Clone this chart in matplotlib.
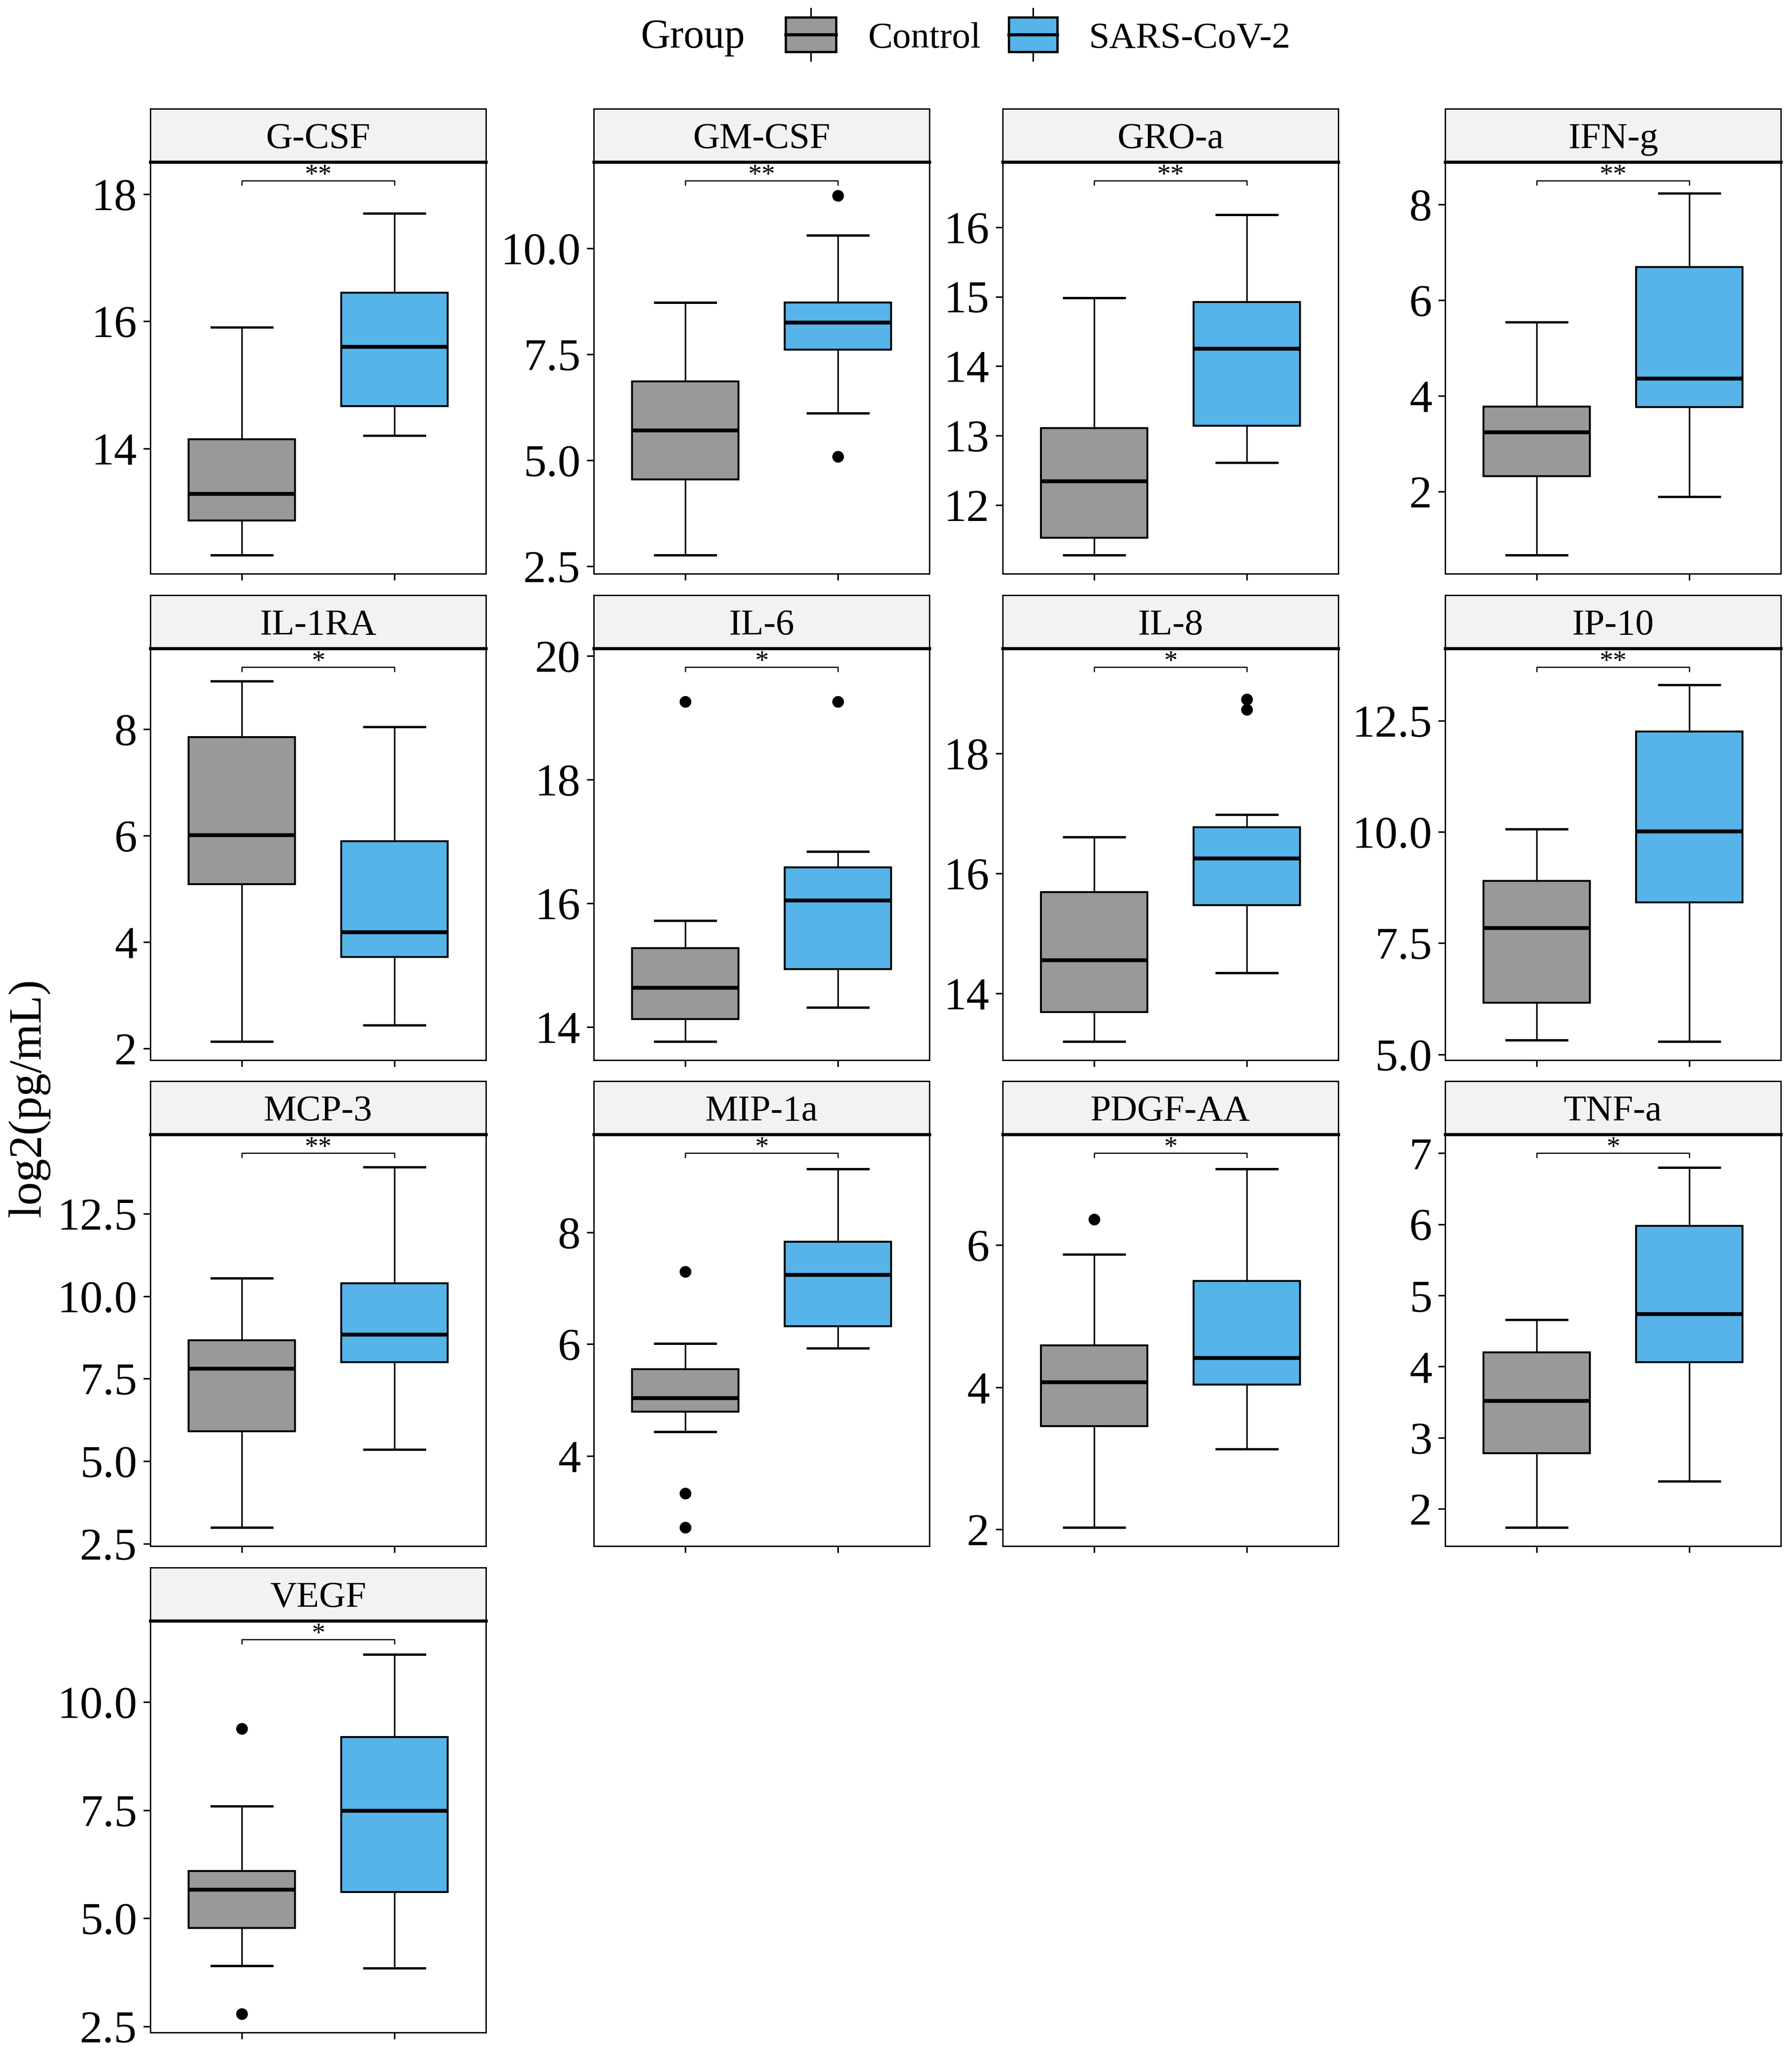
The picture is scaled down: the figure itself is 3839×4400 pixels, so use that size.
import matplotlib
matplotlib.use("Agg")
import matplotlib.pyplot as plt
from matplotlib.patches import Rectangle

plt.rcParams['font.family'] = ['Liberation Serif', 'DejaVu Serif']

# ---------------- data ----------------
cytokines = ["G-CSF", "GM-CSF", "GRO-a", "IFN-g", "IL-1RA", "IL-6", "IL-8",
             "IP-10", "MCP-3", "MIP-1a", "PDGF-AA", "TNF-a", "VEGF"]
groups = ["Control", "SARS-CoV-2"]

# Control: lower whisker, Q1, median, Q3, upper whisker
ctrl_whislo = [12.33, 2.77, 11.28, 0.67, 2.13, 13.77, 13.20, 5.32, 3.00, 4.43, 2.03, 1.74, 3.90]
ctrl_q1     = [12.87, 4.55, 11.53, 2.32, 5.09, 14.13, 13.69, 6.16, 5.91, 4.79, 3.45, 2.78, 4.78]
ctrl_med    = [13.29, 5.71, 12.34, 3.24, 6.01, 14.64, 14.55, 7.84, 7.81, 5.03, 4.07, 3.52, 5.66]
ctrl_q3     = [14.15, 6.87, 13.11, 3.77, 7.85, 15.28, 15.69, 8.90, 8.66, 5.55, 4.59, 4.20, 6.09]
ctrl_whishi = [15.91, 8.73, 14.98, 5.54, 8.91, 15.72, 16.61, 10.07, 10.54, 6.01, 5.87, 4.66, 7.59]
ctrl_fliers = [[], [], [], [], [], [19.26], [], [], [], [7.30, 3.33, 2.72], [6.36], [], [9.39, 2.79]]

# SARS-CoV-2
sars_whislo = [14.21, 6.12, 12.61, 1.89, 2.44, 14.32, 14.34, 5.29, 5.36, 5.93, 3.13, 2.39, 3.85]
sars_q1     = [14.67, 7.61, 13.14, 3.76, 3.72, 14.94, 15.47, 8.42, 8.00, 6.32, 4.04, 4.06, 5.61]
sars_med    = [15.60, 8.25, 14.25, 4.36, 4.18, 16.05, 16.25, 10.01, 8.83, 7.24, 4.41, 4.74, 7.49]
sars_q3     = [16.45, 8.73, 14.92, 6.69, 5.90, 16.58, 16.77, 12.26, 10.39, 7.83, 5.49, 5.98, 9.19]
sars_whishi = [17.70, 10.31, 16.18, 8.24, 8.05, 16.84, 16.98, 13.31, 13.91, 9.14, 7.07, 6.80, 11.11]
sars_fliers = [[], [11.25, 5.09], [], [], [], [19.26], [18.90, 18.73], [], [], [], [], [], []]

signif = ["**", "**", "**", "**", "*", "*", "*", "**", "**", "*", "*", "*", "*"]
bracket_y = [18.21, 11.60, 16.67, 8.50, 9.17, 19.82, 19.44, 13.71, 14.33, 9.42, 7.29, 7.00, 11.45]

ytick_labels = [
    ["14", "16", "18"],
    ["2.5", "5.0", "7.5", "10.0"],
    ["12", "13", "14", "15", "16"],
    ["2", "4", "6", "8"],
    ["2", "4", "6", "8"],
    ["14", "16", "18", "20"],
    ["14", "16", "18"],
    ["5.0", "7.5", "10.0", "12.5"],
    ["2.5", "5.0", "7.5", "10.0", "12.5"],
    ["4", "6", "8"],
    ["2", "4", "6"],
    ["2", "3", "4", "5", "6", "7"],
    ["2.5", "5.0", "7.5", "10.0"],
]

group_colors = ["#999999", "#56B4E9"]

# ---------------- layout (pixels) ----------------
W, H = 3839, 4400
DPI = 300
fig = plt.figure(figsize=(W / DPI, H / DPI), dpi=DPI)
fig.patch.set_facecolor("white")

col_left = [322, 1272, 2148, 3096]
panel_w = 719
row_top = [233, 1275, 2316, 3358]
strip_h = 114
panel_h = 882

for i, name in enumerate(cytokines):
    r, c = divmod(i, 4)
    left = col_left[c] / W
    st_top = row_top[r]
    ax = fig.add_axes([left, 1 - (st_top + strip_h + panel_h) / H,
                       panel_w / W, panel_h / H])
    sax = fig.add_axes([left, 1 - (st_top + strip_h) / H,
                        panel_w / W, strip_h / H])

    stats = [
        dict(whislo=ctrl_whislo[i], q1=ctrl_q1[i], med=ctrl_med[i],
             q3=ctrl_q3[i], whishi=ctrl_whishi[i], fliers=ctrl_fliers[i]),
        dict(whislo=sars_whislo[i], q1=sars_q1[i], med=sars_med[i],
             q3=sars_q3[i], whishi=sars_whishi[i], fliers=sars_fliers[i]),
    ]
    bp = ax.bxp(stats, positions=[1, 2], widths=0.7, capwidths=0.4,
                patch_artist=True, manage_ticks=False,
                boxprops=dict(edgecolor="black", linewidth=1.0),
                medianprops=dict(color="black", linewidth=2.0, solid_capstyle="butt"),
                whiskerprops=dict(color="black", linewidth=0.8),
                capprops=dict(color="black", linewidth=1.2),
                flierprops=dict(marker="o", markerfacecolor="black",
                                markeredgecolor="black", markersize=5.0))
    for patch, col in zip(bp["boxes"], group_colors):
        patch.set_facecolor(col)

    # y range like ggplot (data + bracket, expanded 5%)
    lo = min([ctrl_whislo[i], sars_whislo[i]] + ctrl_fliers[i] + sars_fliers[i])
    hi = bracket_y[i]
    rng = hi - lo
    ymin, ymax = lo - 0.05 * rng, hi + 0.05 * rng
    ax.set_ylim(ymin, ymax)
    ax.set_xlim(0.4, 2.6)

    # significance bracket
    tip = 0.0105 * (ymax - ymin)
    yb = bracket_y[i]
    ax.plot([1, 1, 2, 2], [yb - tip, yb, yb, yb - tip], color="black",
            linewidth=0.6, clip_on=False, zorder=5)
    ax.annotate(signif[i], xy=(1.5, yb), xytext=(0, -1.0),
                textcoords="offset points", ha="center", va="baseline",
                fontsize=14, annotation_clip=False, zorder=6)

    ticks = [float(t) for t in ytick_labels[i]]
    ax.set_yticks(ticks)
    ax.set_yticklabels(ytick_labels[i])
    ax.set_xticks([1, 2])
    ax.set_xticklabels(["", ""])
    ax.tick_params(axis="y", length=3.6, width=0.8, pad=3.2, labelsize=23.5,
                   direction="out", colors="black")
    ax.tick_params(axis="x", length=3.4, width=0.8, direction="out")
    for sp in ax.spines.values():
        sp.set_linewidth(0.7)
        sp.set_color("black")
    ax.set_facecolor("white")

    # strip
    sax.set_facecolor("#F2F2F2")
    sax.set_xticks([])
    sax.set_yticks([])
    for key, sp in sax.spines.items():
        sp.set_linewidth(0.7)
        sp.set_color("black")
    sax.spines["bottom"].set_linewidth(1.6)
    sax.text(0.5, 0.263, name, ha="center", va="baseline", fontsize=19,
             transform=sax.transAxes)

# ---------------- legend (top) ----------------
lax = fig.add_axes([0, 0, 1, 1], zorder=10)
lax.set_xlim(0, W)
lax.set_ylim(H, 0)
lax.axis("off")
lax.patch.set_alpha(0)

lax.text(1372, 102, "Group", fontsize=21, ha="left", va="baseline")
key_specs = [(1683, 1791, groups[0], 1860, group_colors[0]),
             (2161, 2265, groups[1], 2333, group_colors[1])]
for x0, x1, label, tx, col in key_specs:
    xm = (x0 + x1) / 2
    lax.plot([xm, xm], [18, 37], color="black", linewidth=0.8)
    lax.plot([xm, xm], [111, 130], color="black", linewidth=0.8)
    lax.add_patch(Rectangle((x0, 37), x1 - x0, 74, facecolor=col,
                            edgecolor="black", linewidth=1.2))
    lax.plot([x0, x1], [74, 74], color="black", linewidth=1.6)
    lax.text(tx, 102, label, fontsize=19, ha="left", va="baseline")

# y label
fig.text(62 / W, 1 - 2352 / H, "log2(pg/mL)", rotation=90, ha="center",
         va="center", fontsize=24)

fig.savefig("out.png", dpi=DPI, facecolor="white")
